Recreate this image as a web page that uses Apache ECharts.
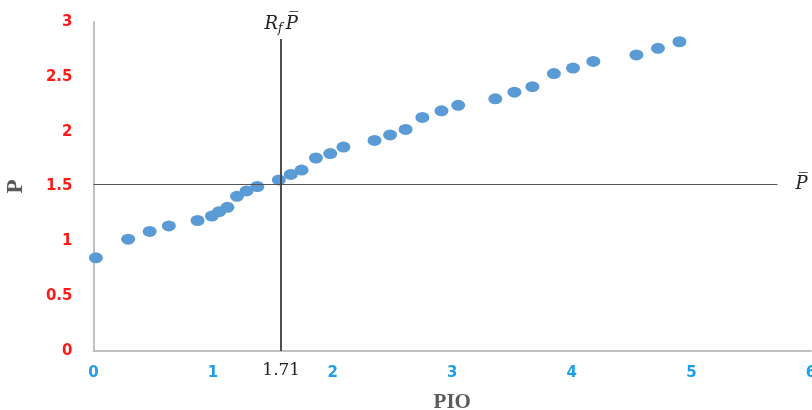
<!DOCTYPE html>
<html><head><meta charset="utf-8">
<script src="https://cdn.jsdelivr.net/npm/echarts@6/dist/echarts.min.js"></script>
<style>html,body{margin:0;padding:0;background:#fff}#c{width:812px;height:410px}</style>
</head><body><div id="c"></div>
<script>
const pioValues = [0.02,0.29,0.47,0.63,0.87,0.99,1.05,1.12,1.20,1.28,1.37,1.55,1.65,1.74,1.86,1.98,2.09,2.35,2.48,2.61,2.75,2.91,3.05,3.36,3.52,3.67,3.85,4.01,4.18,4.54,4.72,4.90];
const pValues   = [0.85,1.02,1.09,1.14,1.19,1.23,1.27,1.31,1.41,1.46,1.50,1.56,1.61,1.65,1.76,1.80,1.86,1.92,1.97,2.02,2.13,2.19,2.24,2.30,2.36,2.41,2.53,2.58,2.64,2.70,2.76,2.82];
const rfX = 1.57, rfLabel = '1.71';
const pBar = 1.52;
const hLineEnd = 5.72, vLineTop = 2.845;
const xTicks = [0,1,2,3,4,5,6];
const yTicks = [0,0.5,1,1.5,2,2.5,3];

const chart = echarts.init(document.getElementById('c'));
chart.setOption({
  animation:false,
  grid:{left:93.5,right:1,top:22,bottom:59,containLabel:false,outerBoundsMode:'none'},
  xAxis:{type:'value',min:0,max:6,interval:1,
    name:'PIO',nameLocation:'middle',nameGap:41,
    nameTextStyle:{fontFamily:'Liberation Serif',fontWeight:'bold',fontSize:21,color:'#5a5a5a'},
    axisLine:{lineStyle:{color:'#c0c0c0',width:2}},axisTick:{show:false},splitLine:{show:false},
    axisLabel:{margin:15,color:'#1ea0e6',fontFamily:'DejaVu Sans',fontWeight:'bold',fontSize:15}},
  yAxis:{type:'value',min:0,max:3,interval:0.5,
    name:'P',nameLocation:'middle',nameGap:66,
    nameTextStyle:{fontFamily:'Liberation Serif',fontWeight:'bold',fontSize:23,color:'#5a5a5a'},
    axisLine:{show:true,lineStyle:{color:'#c0c0c0',width:2}},axisTick:{show:false},splitLine:{show:false},
    axisLabel:{margin:21,color:'#ff1a1a',fontFamily:'DejaVu Sans',fontWeight:'bold',fontSize:15}},
  series:[{
    type:'scatter',
    data:pioValues.map((x,i)=>[x,pValues[i]]),
    symbol:'circle',symbolSize:[14,11],
    itemStyle:{color:'#5b9bd5',opacity:1},
    z:3,
    markLine:{silent:true,symbol:['none','none'],animation:false,
      data:[
        [{coord:[0,pBar],lineStyle:{color:'#555',width:1.2,type:'solid'}},
         {coord:[hLineEnd,pBar],label:{show:true,position:'end',distance:18,
           formatter:'P\u0305',fontFamily:'DejaVu Serif',fontStyle:'italic',fontSize:18,color:'#222'}}],
        [{coord:[rfX,0],lineStyle:{color:'#444',width:1.5,type:'solid'}},
         {coord:[rfX,vLineTop],label:{show:true,position:'end',distance:4,
           formatter:'{r|R}{s|f} {r|P\u0305}',
           rich:{r:{fontFamily:'DejaVu Serif',fontStyle:'italic',fontSize:18,color:'#222'},
                 s:{fontFamily:'DejaVu Serif',fontStyle:'italic',fontSize:12,color:'#222',padding:[10,0,0,0]}}}}],
        [{coord:[rfX,0],lineStyle:{color:'#444',width:1.5,type:'solid'},
          label:{show:true,position:'start',distance:11,formatter:rfLabel,
            fontFamily:'DejaVu Serif',fontSize:17,color:'#222'}},
         {coord:[rfX,vLineTop]}]
      ]}
  }]
});
</script></body></html>
